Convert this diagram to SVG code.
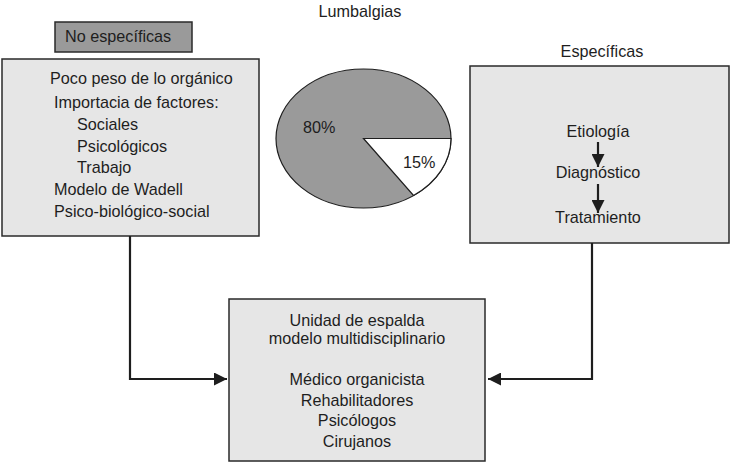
<svg xmlns="http://www.w3.org/2000/svg" width="730" height="462" viewBox="0 0 730 462">
<defs>
<style>
text{font-family:"Liberation Sans",Arial,sans-serif;font-size:16.2px;fill:#1e1e1e}
.box{fill:#e6e6e6;stroke:#2a2a2a;stroke-width:1.5}
.c{text-anchor:middle}
.con{fill:none;stroke:#1e1e1e;stroke-width:2.2}
</style>
<marker id="ah" viewBox="0 0 10 10" refX="10" refY="5" markerWidth="17" markerHeight="13" markerUnits="userSpaceOnUse" orient="auto"><path d="M0,0L10,5L0,10z" fill="#1e1e1e"/></marker>
<marker id="ah2" viewBox="0 0 10 10" refX="10" refY="5" markerWidth="15" markerHeight="13" markerUnits="userSpaceOnUse" orient="auto"><path d="M0,0L10,5L0,10z" fill="#1e1e1e"/></marker>
</defs>
<rect width="730" height="462" fill="#fff"/>
<text class="c" x="360" y="17">Lumbalgias</text>
<g id="noesp">
<rect x="55" y="22" width="137" height="30" fill="#9a9a9a" stroke="#2a2a2a" stroke-width="1.5"/>
<text x="65" y="42">No específicas</text>
</g>
<g id="left">
<rect class="box" x="2" y="59" width="257" height="177"/>
<text x="50" y="84">Poco peso de lo orgánico</text>
<text x="54" y="108">Importacia de factores:</text>
<text x="77" y="130">Sociales</text>
<text x="77" y="152">Psicológicos</text>
<text x="77" y="173">Trabajo</text>
<text x="54" y="195">Modelo de Wadell</text>
<text x="54" y="217">Psico-biológico-social</text>
</g>
<g id="pie">
<ellipse cx="363.5" cy="138.5" rx="87.5" ry="69.5" fill="#9a9a9a" stroke="#1e1e1e" stroke-width="1.2"/>
<path d="M363.5,138.5L451,138.5A87.5,69.5 0 0 1 413.5,195.5Z" fill="#fff" stroke="#1e1e1e" stroke-width="1.2"/>
<text x="303" y="133">80%</text>
<text x="403" y="168">15%</text>
</g>
<g id="esp">
<text class="c" x="602" y="57">Específicas</text>
<rect class="box" x="470" y="66" width="259" height="177"/>
<text class="c" x="598" y="137">Etiología</text>
<text class="c" x="598" y="178">Diagnóstico</text>
<text class="c" x="598" y="223">Tratamiento</text>
<line class="con" x1="598" y1="142" x2="598" y2="167" stroke-width="1.5" marker-end="url(#ah2)"/>
<line class="con" x1="598" y1="184" x2="598" y2="213" stroke-width="1.5" marker-end="url(#ah2)"/>
</g>
<g id="unidad">
<rect class="box" x="229" y="299" width="256" height="162"/>
<text class="c" x="357" y="325.5">Unidad de espalda</text>
<text class="c" x="357" y="344">modelo multidisciplinario</text>
<text class="c" x="357" y="385">Médico organicista</text>
<text class="c" x="357" y="406">Rehabilitadores</text>
<text class="c" x="357" y="426">Psicólogos</text>
<text class="c" x="357" y="447">Cirujanos</text>
</g>
<g id="connectors">
<path class="con" d="M130,236V379H227" marker-end="url(#ah)"/>
<path class="con" d="M592,243V379H488" marker-end="url(#ah)"/>
</g>
</svg>
